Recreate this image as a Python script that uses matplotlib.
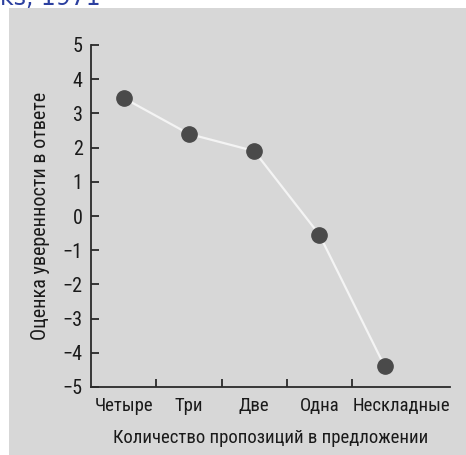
import matplotlib
matplotlib.use("Agg")
import matplotlib.pyplot as plt
import matplotlib.transforms as mtransforms
from matplotlib.patches import Rectangle

categories = ["Четыре", "Три", "Две", "Одна", "Нескладные"]
confidence = [3.45, 2.4, 1.9, -0.55, -4.4]
yticks = [-5, -4, -3, -2, -1, 0, 1, 2, 3, 4, 5]

FONT = ["Roboto Condensed", "DejaVu Sans"]
plt.rcParams["font.family"] = FONT
plt.rcParams["axes.unicode_minus"] = True

W, H = 466, 455
fig = plt.figure(figsize=(W / 100, H / 100), dpi=100, facecolor="white")

# gray scanned panel
fig.patches.append(Rectangle((9 / W, 0), 1 - 9 / W, 1 - 8 / H,
                             transform=fig.transFigure, facecolor="#d7d7d7",
                             edgecolor="none", zorder=-5))
fig.text(0.0, 1 - 5.0 / H, "ks, 1971", color="#2b3f9f", fontsize=17,
         family=["DejaVu Sans"], ha="left", va="baseline")

ax = fig.add_axes([91 / W, 68 / H, (450 - 91) / W, (410 - 68) / H])
ax.set_facecolor("none")
ax.set_zorder(2)

x = list(range(len(categories)))
ax.plot(x, confidence, color="#f4f4f4", lw=1.6, zorder=2, solid_capstyle="round")
ax.plot(x, confidence, "o", color="#4a4a4a", ms=11, mec="#4a4a4a", zorder=3)

ax.set_xlim(-0.5, 5.0)
ax.set_ylim(-5, 5)

for s in ["top", "right"]:
    ax.spines[s].set_visible(False)
for s in ["left", "bottom"]:
    ax.spines[s].set_color("#2a2a2a")
    ax.spines[s].set_linewidth(1.3)

ax.set_yticks(yticks)
ax.set_yticklabels([("\u2212" + str(-v)) if v < 0 else str(v) for v in yticks])
ax.tick_params(axis="y", direction="in", length=6, width=1.3, color="#2a2a2a",
               labelsize=14.5, labelcolor="#1a1a1a", pad=6)

ax.set_xticks(x)
ax.set_xticklabels(categories)
ax.set_xticks([0.5, 1.5, 2.5, 3.5], minor=True)
ax.tick_params(axis="x", which="major", length=0, labelsize=13.5,
               labelcolor="#1a1a1a", pad=7)
ax.tick_params(axis="x", which="minor", direction="in", length=6, width=1.3,
               color="#2a2a2a")

# last label sits a bit to the right in the original
lbl = ax.get_xticklabels()[-1]
lbl.set_transform(lbl.get_transform() + mtransforms.ScaledTranslation(17 / 100, 0, fig.dpi_scale_trans))

ax.set_ylabel("Оценка уверенности в ответе", fontsize=14.5, color="#1a1a1a", labelpad=9)
ax.set_xlabel("Количество пропозиций в предложении", fontsize=13.5, color="#1a1a1a", labelpad=10)

fig.savefig("out.png", dpi=100, facecolor="white")
